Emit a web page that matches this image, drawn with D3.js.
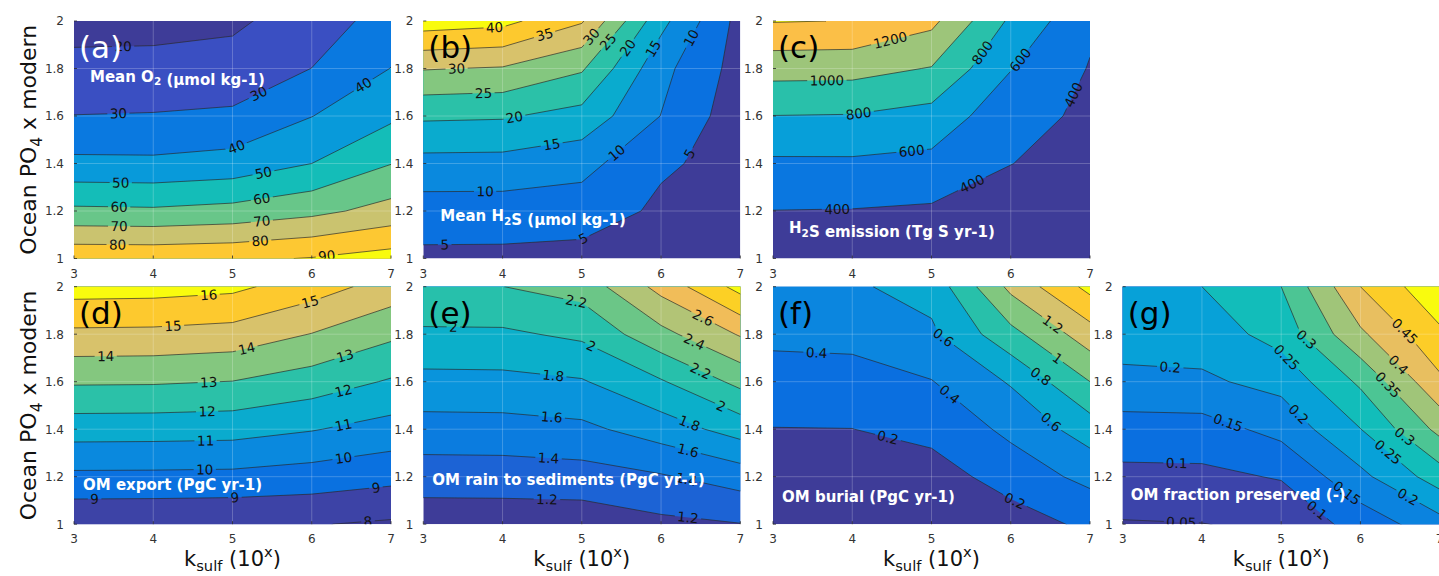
<!DOCTYPE html>
<html><head><meta charset="utf-8">
<script src="https://cdn.jsdelivr.net/npm/d3@7"></script>
<style>
body{margin:0;background:#fff}
svg{display:block}
text{font-family:"DejaVu Sans",sans-serif}
</style></head>
<body><svg id="chart" width="1439" height="576"></svg>
<script>
// ---------- data ----------
const kSulf = [3, 4, 5, 6, 7];
const po4 = [1.0, 1.2, 1.4, 1.6, 1.8, 2.0];
const xTicks = [3, 4, 5, 6, 7];
const yTicks = [1, 1.2, 1.4, 1.6, 1.8, 2];

// grids: one row per po4 value (1.0 -> 2.0), one column per kSulf value (3 -> 7)
const meanO2 = [
  [87.7, 87.5, 88.25, 90.5, 94.2],
  [62.0, 61.5, 63.25, 67.3, 73.6],
  [42.3, 42.0, 43.75, 50.0, 59.75],
  [30.2, 30.6, 31.85, 39.8, 48.15],
  [22.4, 22.6, 22.8, 30.1, 40.17],
  [17.0, 17.2, 18.7, 23.7, 35.2]
];
const levelsO2 = [20, 30, 40, 50, 60, 70, 80, 90];
const labelsO2 = [[20,3.62],[30,3.56],[30,5.33],[40,5.05],[40,6.65],[50,3.59],[50,5.39],[60,3.57],[60,5.37],[70,3.57],[70,5.37],[80,3.55],[80,5.35],[90,6.19]];

const meanH2S = [
  [3.9, 3.84, 3.39, 3.0, 2.5],
  [7.7, 7.69, 7.37, 4.2, 3.0],
  [13.35, 13.26, 11.72, 5.58, 3.6],
  [20.8, 20.5, 18.28, 9.9, 2.0],
  [30.3, 29.6, 25.6, 11.5, 3.0],
  [42.6, 41.5, 35.5, 16.5, 3.3]
];
const levelsH2S = [5, 10, 15, 20, 25, 30, 35, 40];
const labelsH2S = [[40,3.9],[35,4.53],[30,3.42],[30,5.12],[25,3.76],[25,5.33],[20,4.15],[20,5.58],[15,4.62],[15,5.9],[10,3.78],[10,5.44],[10,6.38],[5,3.27],[5,5.02],[5,6.36]];

const h2sEmission = [
  [300, 300, 290, 280, 270],
  [397, 392, 372.7, 340, 320],
  [566, 568, 543, 402, 350],
  [797, 790, 729.7, 465, 366.5],
  [1073, 1068, 990, 608, 389],
  [1410, 1395, 1250, 765, 435]
];
const levelsEmission = [400, 600, 800, 1000, 1200, 1400];
const labelsEmission = [[1200,4.48],[1000,3.68],[800,4.08],[800,5.64],[600,4.75],[600,6.12],[400,3.81],[400,5.51],[400,6.79]];

const omExport = [
  [8.12, 8.1, 8.06, 8.05, 7.86],
  [9.78, 9.77, 9.74, 9.55, 9.28],
  [11.45, 11.43, 11.38, 11.06, 10.62],
  [13.12, 13.1, 12.98, 12.53, 11.9],
  [14.78, 14.75, 14.6, 13.97, 13.2],
  [16.44, 16.4, 16.23, 15.46, 14.58]
];
const levelsExport = [8, 9, 10, 11, 12, 13, 14, 15, 16];
const labelsExport = [[16,4.7],[15,4.25],[15,5.98],[14,3.4],[14,5.18],[13,4.7],[13,6.42],[12,4.68],[12,6.4],[11,4.66],[11,6.4],[10,4.65],[10,6.4],[9,3.26],[9,5.03],[9,6.81],[8,6.71]];

const omRain = [
  [1.077, 1.08, 1.079, 1.153, 1.194],
  [1.297, 1.30, 1.317, 1.381, 1.489],
  [1.518, 1.523, 1.554, 1.696, 1.885],
  [1.74, 1.745, 1.783, 1.981, 2.255],
  [1.964, 1.967, 2.039, 2.34, 2.618],
  [2.188, 2.198, 2.28, 2.665, 3.07]
];
const levelsRain = [1.2, 1.4, 1.6, 1.8, 2, 2.2, 2.4, 2.6, 2.8, 3];
const labelsRain = [[2.2,4.93],[2,3.38],[2,5.12],[1.8,4.64],[1.6,4.62],[1.4,4.58],[1.2,4.56],[2.6,6.53],[2.4,6.42],[2.2,6.5],[2,6.76],[1.8,6.36],[1.6,6.34],[1.4,6.32],[1.2,6.34]];

const omBurial = [
  [0.1, 0.1, 0.06, 0.087, 0.25],
  [0.15, 0.15, 0.095, 0.3, 0.45],
  [0.195, 0.198, 0.27, 0.44, 0.70],
  [0.318, 0.325, 0.392, 0.619, 1.0],
  [0.444, 0.455, 0.565, 0.937, 1.31],
  [0.53, 0.575, 0.67, 1.25, 1.66]
];
const levelsBurial = [0.2, 0.4, 0.6, 0.8, 1, 1.2, 1.4, 1.6];
const labelsBurial = [[0.4,3.55],[0.6,5.15],[0.4,5.23],[0.2,4.45],[0.2,6.05],[1.2,6.53],[1,6.59],[0.8,6.38],[0.6,6.51]];

const omFraction = [
  [0.046, 0.049, 0.06, 0.12, 0.18],
  [0.088, 0.089, 0.1035, 0.187, 0.275],
  [0.127, 0.129, 0.166, 0.249, 0.364],
  [0.189, 0.192, 0.2155, 0.309, 0.44],
  [0.219, 0.222, 0.27, 0.391, 0.49],
  [0.24, 0.25, 0.30, 0.45, 0.54]
];
const levelsFraction = [0.05, 0.1, 0.15, 0.2, 0.25, 0.3, 0.35, 0.4, 0.45, 0.5];
const labelsFraction = [[0.05,3.74],[0.1,3.68],[0.2,3.6],[0.15,4.33],[0.25,5.07],[0.3,5.32],[0.2,5.22],[0.1,5.45],[0.15,5.83],[0.45,6.56],[0.4,6.48],[0.35,6.35],[0.3,6.56],[0.25,6.35],[0.2,6.6]];

// ---------- style / layout ----------
const cmapStops = [
  [0.00, "#3e3c98"], [0.05, "#3a4fc2"], [0.13, "#0a6fe0"], [0.25, "#0b85df"],
  [0.35, "#07a2d8"], [0.45, "#0fbcbc"], [0.55, "#3fc49a"], [0.62, "#7cc780"],
  [0.70, "#b2c476"], [0.76, "#dcc26a"], [0.82, "#fbbb50"], [0.88, "#fdca2c"],
  [0.94, "#fadc18"], [1.00, "#f9fb0e"]
];
function cmap(t) {
  t = Math.max(0, Math.min(1, t));
  for (let i = 0; i < cmapStops.length - 1; i++) {
    const [t0, c0] = cmapStops[i], [t1, c1] = cmapStops[i + 1];
    if (t <= t1) return d3.interpolateRgb(c0, c1)((t - t0) / (t1 - t0));
  }
  return cmapStops[cmapStops.length - 1][1];
}

const W = 317, H = 237.5;
const colLeft = [74, 423.3, 773, 1122.7];
const rowTop = [21, 286.7];

const panels = [
  {id:"a", grid:meanO2, levels:levelsO2, labels:labelsO2, clim:[16.3,89.5], col:0, row:0,
   title:[["Mean O"],["2","sub"],[" (μmol kg-1)"]], tx:16, ty:60.5, letterColor:"#fff"},
  {id:"b", grid:meanH2S, levels:levelsH2S, labels:labelsH2S, clim:[-0.7,40], col:1, row:0,
   title:[["Mean H"],["2","sub"],["S (μmol kg-1)"]], tx:17, ty:200, letterColor:"#000"},
  {id:"c", grid:h2sEmission, levels:levelsEmission, labels:labelsEmission, clim:[190,1400], col:2, row:0,
   title:[["H"],["2","sub"],["S emission (Tg S yr-1)"]], tx:16, ty:212, letterColor:"#000"},
  {id:"d", grid:omExport, levels:levelsExport, labels:labelsExport, clim:[7.86,16], col:0, row:1,
   title:[["OM export (PgC yr-1)"]], tx:9, ty:203, letterColor:"#000"},
  {id:"e", grid:omRain, levels:levelsRain, labels:labelsRain, clim:[1.0,3.0], col:1, row:1,
   title:[["OM rain to sediments (PgC yr-1)"]], tx:9, ty:198, letterColor:"#000"},
  {id:"f", grid:omBurial, levels:levelsBurial, labels:labelsBurial, clim:[-0.009,1.6], col:2, row:1,
   title:[["OM burial (PgC yr-1)"]], tx:9, ty:215, letterColor:"#000"},
  {id:"g", grid:omFraction, levels:levelsFraction, labels:labelsFraction, clim:[0.04,0.5], col:3, row:1,
   title:[["OM fraction preserved (-)"]], tx:8, ty:213, letterColor:"#000"}
];

const svg = d3.select("#chart");
const defs = svg.append("defs");

function addRich(sel, parts, baseSize) {
  parts.forEach(p => {
    const ts = sel.append("tspan").text(p[0]);
    if (p[1] === "sub") ts.attr("font-size", baseSize * 0.7).attr("dy", baseSize * 0.25);
    else if (p[1] === "sup") ts.attr("font-size", baseSize * 0.7).attr("dy", -baseSize * 0.42);
    if (p[2]) ts.attr("dy", p[2]);
  });
}

panels.forEach(p => {
  const left = colLeft[p.col], top = rowTop[p.row];
  const g = svg.append("g").attr("transform", `translate(${left},${top})`);
  const x = d3.scaleLinear().domain([3, 7]).range([0, W]);
  const y = d3.scaleLinear().domain([1, 2]).range([H, 0]);
  const nx = kSulf.length, ny = po4.length;
  const cx = d3.scaleLinear().domain([0.5, nx - 0.5]).range([x(kSulf[0]), x(kSulf[nx - 1])]);
  const cy = d3.scaleLinear().domain([0.5, ny - 0.5]).range([y(po4[0]), y(po4[ny - 1])]);
  const proj = d3.geoTransform({point(px, py) { this.stream.point(cx(px), cy(py)); }});
  const path = d3.geoPath(proj);
  const values = p.grid.flat();
  const contours = d3.contours().size([nx, ny]).thresholds(p.levels)(values);
  const tOf = v => (v - p.clim[0]) / (p.clim[1] - p.clim[0]);

  const clipId = "clip-" + p.id, maskId = "mask-" + p.id;
  defs.append("clipPath").attr("id", clipId).append("rect").attr("width", W).attr("height", H);

  const plot = g.append("g").attr("clip-path", `url(#${clipId})`);
  plot.append("rect").attr("width", W).attr("height", H).attr("fill", cmap(0));
  plot.selectAll("path.fill").data(contours).join("path")
    .attr("class", "fill").attr("d", path).attr("fill", d => cmap(tOf(d.value))).attr("stroke", "none");

  // grid lines
  plot.selectAll("line.gx").data(xTicks.slice(1, -1)).join("line")
    .attr("x1", d => x(d)).attr("x2", d => x(d)).attr("y1", 0).attr("y2", H)
    .attr("stroke", "#fff").attr("stroke-opacity", 0.22).attr("stroke-width", 1);
  plot.selectAll("line.gy").data(yTicks.slice(1, -1)).join("line")
    .attr("y1", d => y(d)).attr("y2", d => y(d)).attr("x1", 0).attr("x2", W)
    .attr("stroke", "#fff").attr("stroke-opacity", 0.22).attr("stroke-width", 1);

  // contour lines (masked around labels)
  const mask = defs.append("mask").attr("id", maskId).attr("maskUnits", "userSpaceOnUse")
    .attr("x", -10).attr("y", -10).attr("width", W + 20).attr("height", H + 20);
  mask.append("rect").attr("x", -10).attr("y", -10).attr("width", W + 20).attr("height", H + 20).attr("fill", "#fff");
  plot.append("g").attr("mask", `url(#${maskId})`)
    .selectAll("path").data(contours).join("path")
    .attr("d", path).attr("fill", "none").attr("stroke", "#2a2a2a").attr("stroke-width", 0.75).attr("stroke-opacity", 0.9);

  // contour labels
  const labG = plot.append("g");
  p.labels.forEach(([lev, xd]) => {
    const c = contours.find(k => Math.abs(k.value - lev) < 1e-9);
    if (!c) return;
    const px = x(xd);
    let hit = null;
    c.coordinates.forEach(poly => poly.forEach(ring => {
      for (let k = 0; k < ring.length - 1; k++) {
        const ax = cx(ring[k][0]), ay = cy(ring[k][1]), bx = cx(ring[k + 1][0]), by = cy(ring[k + 1][1]);
        if (ax === bx) continue;
        if ((ax - px) * (bx - px) <= 0) {
          const t = (px - ax) / (bx - ax), py = ay + t * (by - ay);
          if (py > 1 && py < H - 1 && !hit) {
            let ang = Math.atan2(by - ay, bx - ax) * 180 / Math.PI;
            if (ang > 90) ang -= 180;
            if (ang < -90) ang += 180;
            hit = {py, ang};
          }
        }
      }
    }));
    if (!hit) return;
    const t = labG.append("text").attr("transform", `translate(${px},${hit.py}) rotate(${hit.ang})`)
      .attr("text-anchor", "middle").attr("dy", "0.36em").attr("font-size", 13.5).attr("fill", "#111")
      .text(String(lev));
    const w = t.node().getComputedTextLength() + 5;
    mask.append("rect").attr("x", -w / 2).attr("y", -7).attr("width", w).attr("height", 14)
      .attr("transform", `translate(${px},${hit.py}) rotate(${hit.ang})`).attr("fill", "#000");
  });

  // ticks
  g.selectAll("line.tx").data(xTicks).join("line")
    .attr("x1", d => x(d)).attr("x2", d => x(d)).attr("y1", H).attr("y2", H - 3)
    .attr("stroke", "#262626").attr("stroke-width", 0.8);
  g.selectAll("line.ty").data(yTicks).join("line")
    .attr("y1", d => y(d)).attr("y2", d => y(d)).attr("x1", 0).attr("x2", 3)
    .attr("stroke", "#262626").attr("stroke-width", 0.8);
  g.selectAll("text.xt").data(xTicks).join("text")
    .attr("x", d => x(d)).attr("y", H + 19).attr("text-anchor", "middle")
    .attr("font-size", 12).attr("fill", "#333").text(d => d3.format("~g")(d));
  g.selectAll("text.yt").data(yTicks).join("text")
    .attr("x", -10).attr("y", d => y(d)).attr("dy", "0.36em").attr("text-anchor", "end")
    .attr("font-size", 12).attr("fill", "#333").text(d => d3.format("~g")(d));

  // title
  const tt = g.append("text").attr("x", p.tx).attr("y", p.ty).attr("font-size", 15)
    .attr("font-weight", "bold").attr("fill", "#fff");
  addRich(tt, p.title, 15);
  // panel letter
  g.append("text").attr("x", 5).attr("y", 37).attr("font-size", 31).attr("fill", p.letterColor)
    .text("(" + p.id + ")");

  // axis titles
  if (p.col === 0) {
    const yl = g.append("text").attr("transform", `translate(-38,${H / 2}) rotate(-90)`)
      .attr("text-anchor", "middle").attr("font-size", 22).attr("fill", "#111");
    addRich(yl, [["Ocean PO"],["4","sub"],[" x modern", null, -22 * 0.25]], 22);
  }
  if (p.row === 1) {
    const xl = g.append("text").attr("x", W / 2).attr("y", H + 42)
      .attr("text-anchor", "middle").attr("font-size", 21).attr("fill", "#111");
    addRich(xl, [["k"],["sulf","sub"],[" (10", null, -21 * 0.25],["x","sup"],[")", null, 21 * 0.42]], 21);
  }
});
</script>
</body></html>
